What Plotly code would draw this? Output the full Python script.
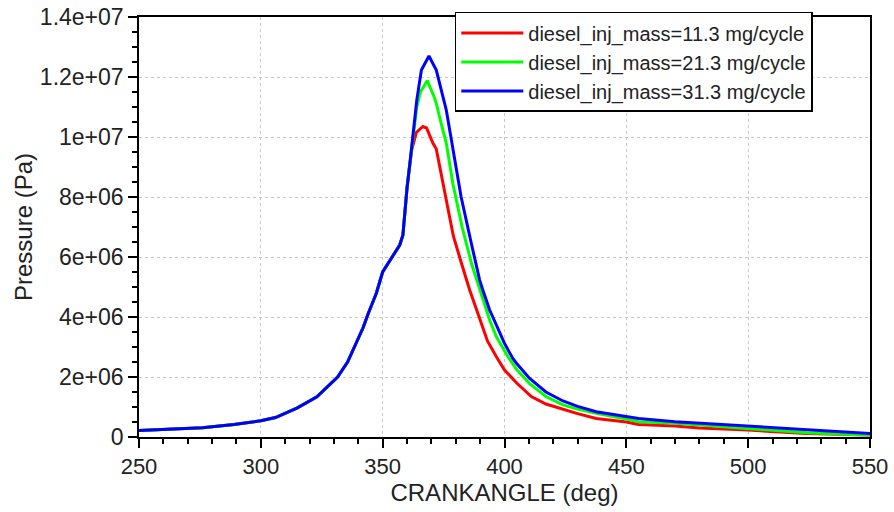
import plotly.graph_objects as go

# Shared compression part (crank angle in deg, pressure in MPa)
comp_deg = [250, 266, 276, 289, 300, 306, 315, 323, 327.5, 331.5, 335.6, 338, 342, 344,
            347.4, 350, 353, 355.6, 357, 358.3, 359, 360, 361]
comp_p = [0.22, 0.27, 0.31, 0.42, 0.54, 0.65, 0.97, 1.34, 1.68, 2.0, 2.5, 2.95, 3.65, 4.1,
          4.79, 5.5, 5.9, 6.23, 6.4, 6.73, 7.4, 8.3, 9.0]

red_deg = [362, 363.8, 366.5, 368, 370.6, 372, 376, 379, 382.3, 385.7, 389.8, 393, 396.6,
           400, 405, 411, 417, 424, 430, 437.6, 450, 455, 470, 480, 500, 524, 542, 550]
red_p = [9.6, 10.15, 10.35, 10.3, 9.8, 9.6, 7.9, 6.7, 5.8, 4.9, 3.95, 3.2, 2.68,
         2.23, 1.8, 1.35, 1.1, 0.92, 0.78, 0.62, 0.5, 0.42, 0.37, 0.3, 0.23, 0.12, 0.08, 0.07]

green_deg = [362.4, 364, 365.5, 368.3, 371.3, 372, 374, 376.1, 378.8, 382.6, 386.4, 388.4,
             391.1, 393.9, 396.6, 400, 401.4, 405, 410.2, 417, 424, 430, 437.6, 450, 455,
             470, 480, 500, 524, 542, 550]
green_p = [10.0, 11.0, 11.5, 11.88, 11.3, 11.12, 10.45, 9.8, 8.45, 7.0, 5.8, 5.3,
           4.68, 3.9, 3.35, 2.85, 2.68, 2.25, 1.79, 1.35, 1.07, 0.93, 0.79, 0.6, 0.51,
           0.46, 0.4, 0.28, 0.14, 0.08, 0.07]

blue_deg = [362.4, 364, 365.9, 369, 372, 374, 376.1, 378, 382.2, 386.4, 389.8, 391.1,
            393.9, 395.2, 399.3, 400, 403.4, 405, 410.2, 417, 424, 430, 437.6, 450, 455,
            470, 480, 500, 524, 550]
blue_p = [10.0, 11.23, 12.23, 12.7, 12.23, 11.57, 10.9, 10.0, 8.0, 6.45, 5.23, 4.9,
          4.23, 4.0, 3.23, 3.12, 2.62, 2.45, 1.96, 1.5, 1.2, 1.02, 0.84, 0.68, 0.62,
          0.51, 0.46, 0.37, 0.23, 0.12]

y_tickvals = [0, 2e6, 4e6, 6e6, 8e6, 1e7, 1.2e7, 1.4e7]
y_ticktext = ["0", "2e+06", "4e+06", "6e+06", "8e+06", "1e+07", "1.2e+07", "1.4e+07"]

series = [
    ("diesel_inj_mass=11.3 mg/cycle", red_deg, red_p, "#ff0000"),
    ("diesel_inj_mass=21.3 mg/cycle", green_deg, green_p, "#00ff00"),
    ("diesel_inj_mass=31.3 mg/cycle", blue_deg, blue_p, "#0000ff"),
]

FONT = "Liberation Sans, Arial, sans-serif"

fig = go.Figure()
for name, d, p, c in series:
    x = comp_deg + d
    y = [v * 1e6 for v in comp_p + p]
    fig.add_trace(go.Scatter(x=x, y=y, mode="lines", name=name,
                             line=dict(color=c, width=3)))

axis_common = dict(
    showline=True, linecolor="black", linewidth=1.5, mirror=True,
    ticks="outside", ticklen=9, tickwidth=1.5, tickcolor="black",
    showgrid=True, gridcolor="#c8c8c8", griddash="dot", gridwidth=1,
    zeroline=False, automargin=False,
)

fig.update_xaxes(
    range=[250, 550], dtick=50, tick0=250,
    tickfont=dict(family=FONT, size=22, color="#222"),
    minor=dict(dtick=10, ticks="outside", ticklen=5, tickcolor="black", tickwidth=1.5, showgrid=False),
    title=dict(text="CRANKANGLE (deg)", font=dict(family=FONT, size=24, color="#222"), standoff=6),
    **axis_common,
)
fig.update_yaxes(
    range=[0, 1.4e7], tickvals=y_tickvals, ticktext=y_ticktext,
    tickfont=dict(family=FONT, size=23, color="#222"),
    minor=dict(dtick=5e5, ticks="outside", ticklen=5, tickcolor="black", tickwidth=1.5, showgrid=False),
    title=dict(text="Pressure (Pa)", font=dict(family=FONT, size=24, color="#222"), standoff=0),
    **axis_common,
)

fig.update_layout(
    width=894, height=512,
    margin=dict(l=139, r=24, t=17, b=75),
    plot_bgcolor="white", paper_bgcolor="white",
    legend=dict(
        x=0.432, y=1.012, xanchor="left", yanchor="top",
        bgcolor="white", bordercolor="black", borderwidth=1.5,
        font=dict(family=FONT, size=20, color="#222"),
        itemwidth=62, tracegroupgap=0, entrywidth=420,
    ),
    showlegend=True,
)

fig.write_html("out.html")
